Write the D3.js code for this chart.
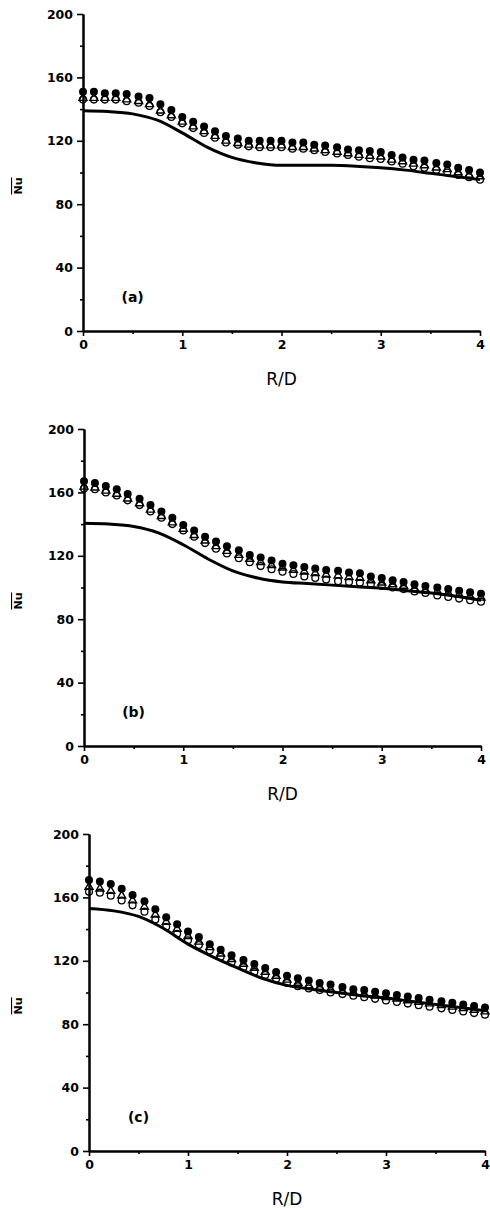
<!DOCTYPE html>
<html>
<head>
<meta charset="utf-8">
<script src="https://cdn.jsdelivr.net/npm/d3@7"></script>
<style>
  body { margin: 0; background: #fff; }
  svg { display: block; }
  text { font-family: "DejaVu Sans", sans-serif; fill: #000; }
</style>
</head>
<body>
<script>
// R/D positions of the measured points (same for every panel)
var rdPoints = [0, 0.11, 0.22, 0.33, 0.44, 0.56, 0.67, 0.78, 0.89, 1, 1.11, 1.22, 1.33, 1.44, 1.56, 1.67, 1.78, 1.89,
  2, 2.11, 2.22, 2.33, 2.44, 2.56, 2.67, 2.78, 2.89, 3, 3.11, 3.22, 3.33, 3.44, 3.56, 3.67, 3.78, 3.89, 4];
// R/D positions of the solid curve
var rdLine = [0, 0.25, 0.5, 0.75, 1, 1.25, 1.5, 1.75, 2, 2.25, 2.5, 2.75, 3, 3.25, 3.5, 3.75, 4];

// panel (a)
var filledA = [151, 151, 150, 150, 149.5, 148, 147, 143, 139.5, 135, 132, 129, 126, 123, 121.5, 120, 120, 120, 120, 119,
  119, 117.5, 117, 116, 114.5, 114, 113.5, 113, 111, 109.5, 108, 107.5, 106, 105, 103, 101.5, 100];
var triA = [147, 147, 147, 147, 146, 145, 143, 139, 136, 132, 129, 126, 123, 120, 118.5, 117.5, 117, 117, 117, 116,
  116, 115, 114, 113, 112, 111, 110.5, 110, 108, 107, 105.5, 104.5, 103, 102, 100, 98.5, 97.5];
var openA = [146, 146, 146, 146, 145, 144, 142, 138, 135, 131, 128, 125, 122, 119, 117.5, 116.5, 116, 116, 116, 115,
  115, 114, 113, 112, 111, 110, 109, 108.5, 107, 105.5, 104, 103, 101.5, 100, 98.5, 97, 95.5];
var lineA = [139, 138.5, 137, 133, 125, 116, 109.5, 106, 104.5, 104.5, 104.5, 104, 103, 101.5, 99.5, 97.5, 95.5];

// panel (b)
var filledB = [167, 166, 164, 162, 159, 156, 152, 148, 144, 139.5, 136, 132, 129, 126, 123.5, 120.5, 119, 117, 115, 114,
  113, 112, 111, 110.5, 109.5, 109, 107, 106, 104.5, 103.5, 102, 101, 100, 99, 98, 97, 96];
var triB = [163.5, 163, 161, 159, 156, 153, 149, 145, 141, 137, 133, 129.5, 126, 123, 120.5, 118, 116, 114, 112.5, 111,
  110, 109, 108, 107.5, 106.5, 106, 104.5, 103, 102, 101, 99.5, 98.5, 97.5, 96.5, 95.5, 94.5, 93.5];
var openB = [162.5, 162, 160, 158, 155, 152, 148, 144, 140, 136, 132, 128, 124.5, 121.5, 118.5, 116, 113.5, 111.5, 110, 108.5,
  107, 106, 105, 104, 103.5, 103, 102, 101, 100, 99, 97.5, 96.5, 95, 94, 93, 92, 91];
var lineB = [140.5, 140, 138.5, 134.5, 127, 118, 110.5, 106, 103.5, 102.5, 101.5, 100.5, 99.5, 98, 96.5, 94.5, 92];

// panel (c)
var filledC = [171, 170, 168.5, 165.5, 161.5, 157.5, 152.5, 147.5, 143, 138.5, 135, 130.5, 127, 123.5, 120.5, 118, 115.5, 113, 110.5, 109,
  107.5, 106, 105, 103.5, 102, 101.5, 100.5, 99.5, 98.5, 97.5, 96.5, 95.5, 94.5, 93.5, 92.5, 91.5, 90.5];
var triC = [166.5, 165.5, 164, 161, 158, 154, 149, 144.5, 140, 135.5, 132, 128.5, 124.5, 121, 118, 115.5, 113, 110.5, 108, 106,
  104.5, 103.5, 102, 101, 100, 99, 98, 97, 96, 95, 94, 93, 92, 91, 90, 89, 88];
var openC = [163.5, 163, 161, 158, 155, 151, 146, 141.5, 137, 133, 130, 126.5, 122.5, 119, 116, 113, 111, 108.5, 106, 104,
  102.5, 101.5, 100, 99, 98, 97, 96, 95, 94, 93, 92, 91, 90, 89, 88, 87, 86];
var lineC = [153, 151.5, 148, 140.5, 130.5, 122.5, 115.5, 109, 104.5, 102, 100, 98, 96.5, 94.5, 92.5, 90.5, 88.5];

var panelLetters = ["(a)", "(b)", "(c)"];
var yTicks = [0, 40, 80, 120, 160, 200];
var yMinor = [20, 60, 100, 140, 180];
var xTicks = [0, 1, 2, 3, 4];
var xMinor = [0.5, 1.5, 2.5, 3.5];

// pixel frame of each panel
var frames = [
  {left: 83, right: 480, top: 14, bottom: 331},
  {left: 84, right: 481, top: 429, bottom: 746},
  {left: 89, right: 485, top: 834, bottom: 1151}
];
var series = [
  {filled: filledA, tri: triA, open: openA, line: lineA},
  {filled: filledB, tri: triB, open: openB, line: lineB},
  {filled: filledC, tri: triC, open: openC, line: lineC}
];

var svg = d3.select("body").append("svg")
  .attr("width", 490)
  .attr("height", 1208);

function drawPanel(i) {
  var f = frames[i];
  var s = series[i];
  var x = d3.scaleLinear().domain([0, 4]).range([f.left, f.right]);
  var y = d3.scaleLinear().domain([0, 200]).range([f.bottom, f.top]);
  var g = svg.append("g");

  // solid curve
  var line = d3.line()
    .x(function(d) { return x(d[0]); })
    .y(function(d) { return y(d[1]); })
    .curve(d3.curveMonotoneX);
  g.append("path")
    .datum(d3.zip(rdLine, s.line))
    .attr("d", line)
    .attr("fill", "none")
    .attr("stroke", "#000")
    .attr("stroke-width", 3);

  // open circles
  g.selectAll(".open").data(d3.zip(rdPoints, s.open)).enter().append("circle")
    .attr("class", "open")
    .attr("cx", function(d) { return x(d[0]); })
    .attr("cy", function(d) { return y(d[1]); })
    .attr("r", 3.4)
    .attr("fill", "none")
    .attr("stroke", "#000")
    .attr("stroke-width", 1.3);

  // open triangles
  var tri = d3.symbol().type(d3.symbolTriangle).size(28);
  g.selectAll(".tri").data(d3.zip(rdPoints, s.tri)).enter().append("path")
    .attr("class", "tri")
    .attr("d", tri)
    .attr("transform", function(d) { return "translate(" + x(d[0]) + "," + y(d[1]) + ")"; })
    .attr("fill", "none")
    .attr("stroke", "#000")
    .attr("stroke-width", 1.4);

  // filled circles
  g.selectAll(".filled").data(d3.zip(rdPoints, s.filled)).enter().append("circle")
    .attr("class", "filled")
    .attr("cx", function(d) { return x(d[0]); })
    .attr("cy", function(d) { return y(d[1]); })
    .attr("r", 4)
    .attr("fill", "#000");

  // axes
  var yAxis = d3.axisLeft(y).tickValues(yTicks).tickSize(6).tickPadding(4).tickSizeOuter(0);
  var yAxisMinor = d3.axisLeft(y).tickValues(yMinor).tickSize(3).tickFormat("").tickSizeOuter(0);
  var xAxis = d3.axisBottom(x).tickValues(xTicks).tickFormat(d3.format("d")).tickSize(5).tickPadding(4).tickSizeOuter(0);
  var xAxisMinor = d3.axisBottom(x).tickValues(xMinor).tickSize(3).tickFormat("").tickSizeOuter(0);

  g.append("g").attr("transform", "translate(" + f.left + ",0)").call(yAxis);
  g.append("g").attr("transform", "translate(" + f.left + ",0)").call(yAxisMinor);
  g.append("g").attr("transform", "translate(0," + f.bottom + ")").call(xAxis);
  g.append("g").attr("transform", "translate(0," + f.bottom + ")").call(xAxisMinor);

  g.selectAll(".domain").attr("stroke", "#000").attr("stroke-width", 2);
  g.selectAll(".tick line").attr("stroke", "#000").attr("stroke-width", 1.6);
  g.selectAll(".tick text")
    .style("font-family", "DejaVu Sans")
    .attr("font-size", "12.5px")
    .attr("font-weight", "bold")
    .attr("fill", "#000");

  // axis titles
  g.append("text")
    .attr("x", x(2))
    .attr("y", f.bottom + 54)
    .attr("text-anchor", "middle")
    .attr("font-size", "17px")
    .text("R/D");

  g.append("text")
    .attr("transform", "translate(22," + (f.top + 172) + ") rotate(-90)")
    .attr("text-anchor", "middle")
    .attr("font-size", "11px")
    .attr("font-weight", "bold")
    .style("text-decoration", "overline")
    .text("Nu");

  // panel letter
  g.append("text")
    .attr("x", x(0.5))
    .attr("y", f.bottom - 29)
    .attr("text-anchor", "middle")
    .attr("font-size", "14px")
    .attr("font-weight", "bold")
    .text(panelLetters[i]);
}

for (var i = 0; i < 3; i++) drawPanel(i);
</script>
</body>
</html>
